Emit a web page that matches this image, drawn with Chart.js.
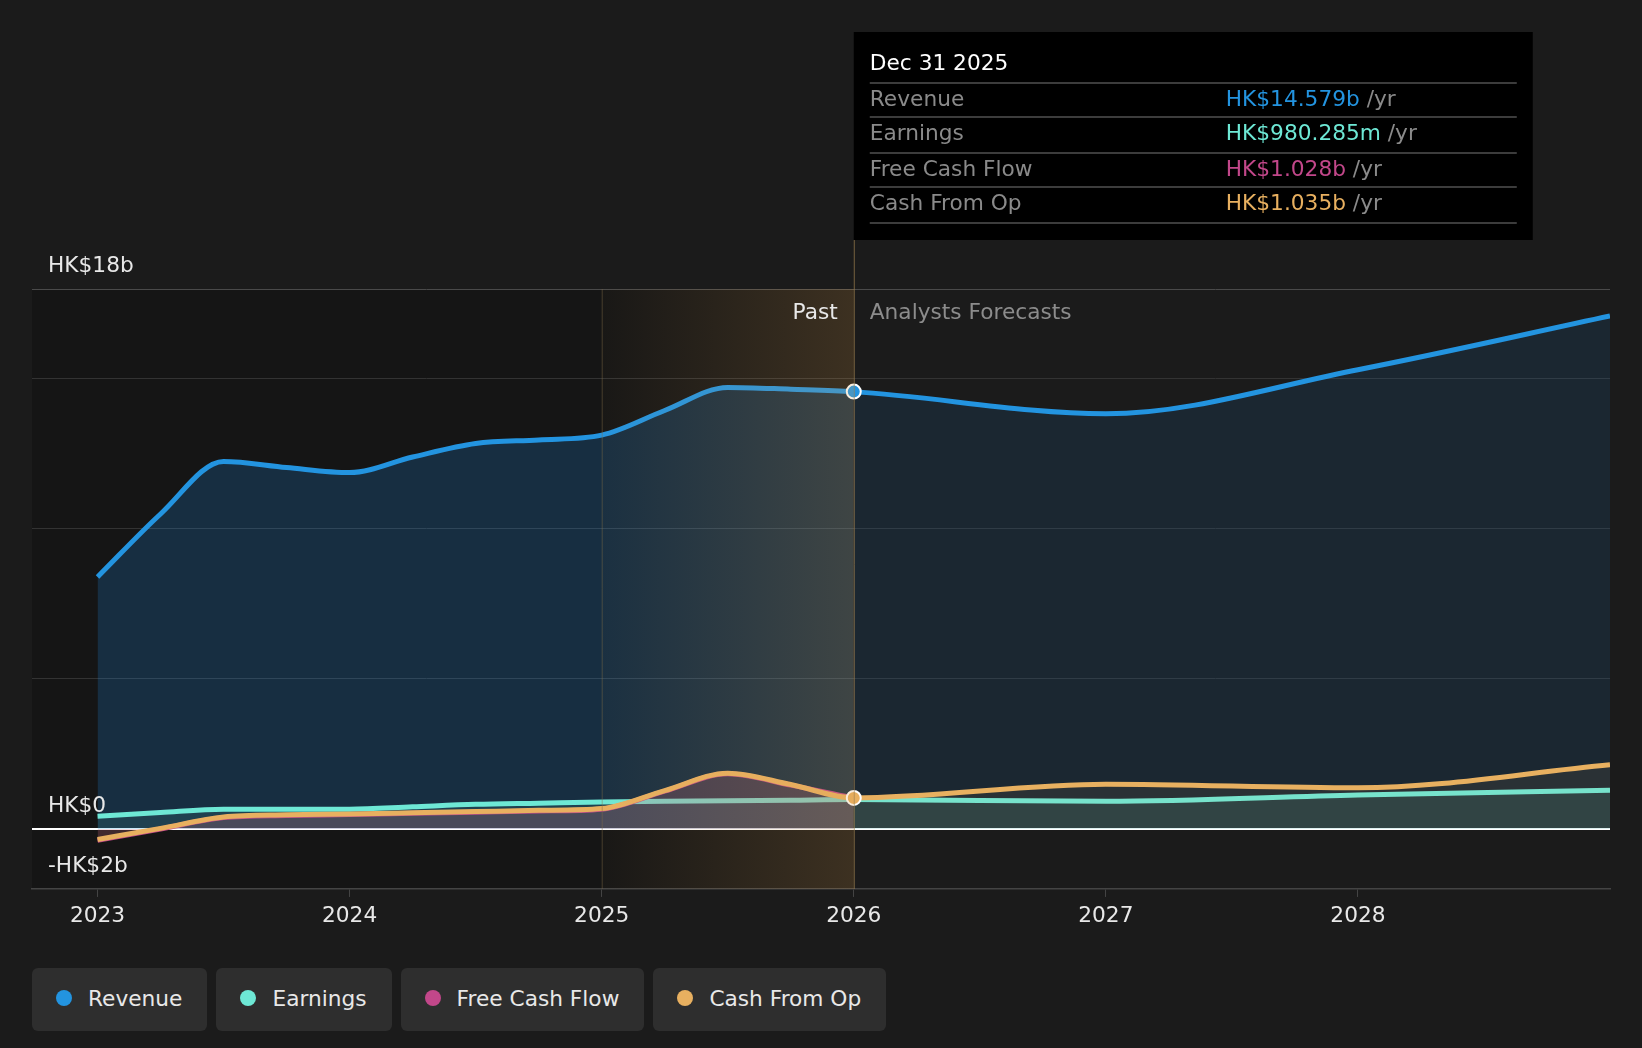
<!DOCTYPE html>
<html lang="en">
<head>
<meta charset="UTF-8">
<title>Revenue, Earnings and Cash Flow</title>
<script src="https://cdn.jsdelivr.net/npm/chart.js@4.4.0/dist/chart.umd.min.js"></script>
<style>
  body { margin: 0; background: #1b1b1b; font-family: "DejaVu Sans", sans-serif; }
  #wrap { position: relative; width: 1642px; height: 1048px; overflow: hidden; }
  #chart { position: absolute; left: 0; top: 0; }
  .legend { position: absolute; left: 32px; top: 968px; display: flex; gap: 9px; }
  .item { height: 63px; background: #2e2e2e; border-radius: 6px; display: flex; align-items: center;
          padding: 0 25px 3px 24px; color: #e8e8e8; font-size: 21.7px; box-sizing: border-box; }
  .dot { width: 16px; height: 16px; border-radius: 50%; margin-right: 16px; }
</style>
</head>
<body>
<div id="wrap">
  <canvas id="chart" width="1642" height="940"></canvas>
  <div class="legend" id="legend"></div>
</div>
<script>
// years as decimals, values in HK$ billions
const dates       = [2023, 2023.25, 2023.5, 2023.75, 2024, 2024.25, 2024.5, 2024.75, 2025, 2025.25, 2025.5, 2025.75, 2026, 2027, 2028, 2029];
const revenue     = [8.4, 10.5, 12.25, 12.05, 11.88, 12.4, 12.85, 12.97, 13.13, 13.95, 14.72, 14.66, 14.579, 13.84, 15.31, 17.1];
const earnings    = [0.42, 0.55, 0.66, 0.66, 0.66, 0.74, 0.82, 0.86, 0.9, 0.92, 0.94, 0.96, 0.98, 0.92, 1.13, 1.29];
const cashFromOp  = [-0.35, 0.02, 0.4, 0.47, 0.5, 0.54, 0.58, 0.62, 0.68, 1.28, 1.86, 1.48, 1.035, 1.49, 1.37, 2.14];
const fcfDates    = [2023, 2023.25, 2023.5, 2023.75, 2024, 2024.25, 2024.5, 2024.75, 2025, 2025.25, 2025.5, 2025.75, 2026];
const freeCashFlow = [-0.38, 0.0, 0.38, 0.45, 0.48, 0.52, 0.56, 0.6, 0.66, 1.26, 1.84, 1.46, 1.028];

const yearTicks = [2023, 2024, 2025, 2026, 2027, 2028];
const gridValues = [-2, 0, 5, 10, 15, 18];
const yLabelValues = [18, 0, -2];
const yLabelTexts = ['HK$18b', 'HK$0', '-HK$2b'];

const pastStart = 2025;
const todayX = 2026;
const tooltipDate = 'Dec 31 2025';
const seriesNames  = ['Revenue', 'Earnings', 'Free Cash Flow', 'Cash From Op'];
const seriesColors = ['#2394e0', '#6ee8d5', '#c2478a', '#e8b060'];
const tooltipValues = ['HK$14.579b', 'HK$980.285m', 'HK$1.028b', 'HK$1.035b'];

const FONT = '"DejaVu Sans", sans-serif';
const FS = 21.7;

function pts(xs, ys) { return xs.map((x, i) => ({ x: x, y: ys[i] })); }

function markerRadius(c) { return c.raw && c.raw.x === todayX ? 7 : 0; }

const backdrop = {
  id: 'backdrop',
  beforeDraw(chart) {
    const { ctx, chartArea: a, scales: { x } } = chart;
    ctx.save();
    ctx.fillStyle = '#151515';
    ctx.fillRect(a.left, a.top, x.getPixelForValue(todayX) - a.left, a.bottom - a.top);
    ctx.restore();
  },
  afterDatasetsDraw(chart) {
    const { ctx, chartArea: a, scales: { x, y } } = chart;
    const x0 = x.getPixelForValue(pastStart), x1 = x.getPixelForValue(todayX);
    ctx.save();
    const g = ctx.createLinearGradient(x0, 0, x1, 0);
    g.addColorStop(0, 'rgba(220,160,80,0.02)');
    g.addColorStop(1, 'rgba(220,160,80,0.2)');
    ctx.fillStyle = g;
    ctx.fillRect(x0, a.top, x1 - x0, a.bottom - a.top);

    ctx.lineWidth = 1;
    ctx.strokeStyle = 'rgba(130,110,70,0.45)';
    ctx.beginPath(); ctx.moveTo(x0 + 0.5, a.top); ctx.lineTo(x0 + 0.5, a.bottom); ctx.stroke();
    ctx.strokeStyle = 'rgba(160,130,80,0.7)';
    ctx.beginPath(); ctx.moveTo(x1 + 0.5, 240); ctx.lineTo(x1 + 0.5, a.bottom); ctx.stroke();

    // labels
    ctx.font = FS + 'px ' + FONT;
    ctx.textBaseline = 'middle';
    ctx.fillStyle = '#e8e8e8';
    ctx.textAlign = 'right';
    ctx.fillText('Past', x1 - 16, a.top + 24);
    ctx.fillStyle = '#8c8c8c';
    ctx.textAlign = 'left';
    ctx.fillText('Analysts Forecasts', x1 + 16, a.top + 24);

    ctx.fillStyle = '#e8e8e8';
    yLabelValues.forEach((v, i) => {
      ctx.fillText(yLabelTexts[i], a.left + 16, y.getPixelForValue(v) - 23);
    });

    // tooltip box
    const bx = x1, bw = 679, by = 32, bh = 208;
    ctx.fillStyle = '#000';
    ctx.fillRect(bx, by, bw, bh);
    const tx = bx + 16, vx = bx + 372, lineEnd = bx + 663;
    ctx.fillStyle = '#fff';
    ctx.fillText(tooltipDate, tx, 64);
    const sepY = [83, 117, 153, 187, 223];
    ctx.strokeStyle = '#3c3c3c';
    ctx.lineWidth = 2;
    sepY.forEach(sy => { ctx.beginPath(); ctx.moveTo(tx, sy); ctx.lineTo(lineEnd, sy); ctx.stroke(); });
    const rowY = [100, 134, 170, 204];
    seriesNames.forEach((n, i) => {
      ctx.fillStyle = '#8a8a8a';
      ctx.fillText(n, tx, rowY[i]);
      ctx.fillStyle = seriesColors[i];
      ctx.fillText(tooltipValues[i], vx, rowY[i]);
      const w = ctx.measureText(tooltipValues[i]).width;
      ctx.fillStyle = '#8a8a8a';
      ctx.fillText(' /yr', vx + w, rowY[i]);
    });
    ctx.restore();
  }
};

Chart.defaults.font.family = FONT;

new Chart(document.getElementById('chart'), {
  type: 'line',
  data: {
    datasets: [
      {
        label: 'Revenue', data: pts(dates, revenue), order: 4,
        borderColor: seriesColors[0], borderWidth: 5, fill: 'origin',
        backgroundColor: 'rgba(33,150,243,0.1)',
        segment: { backgroundColor: c => c.p0.parsed.x < todayX ? 'rgba(33,150,243,0.2)' : 'rgba(33,150,243,0.1)' },
        pointRadius: markerRadius, pointBackgroundColor: seriesColors[0], pointBorderColor: '#fff', pointBorderWidth: 2
      },
      {
        label: 'Earnings', data: pts(dates, earnings), order: 3,
        borderColor: seriesColors[1], borderWidth: 5, fill: 'origin',
        backgroundColor: 'rgba(110,232,213,0.1)', pointRadius: 0
      },
      {
        label: 'Free Cash Flow', data: pts(fcfDates, freeCashFlow), order: 2,
        borderColor: seriesColors[2], borderWidth: 5, fill: 'origin',
        backgroundColor: 'rgba(194,71,138,0.18)', pointRadius: 0
      },
      {
        label: 'Cash From Op', data: pts(dates, cashFromOp), order: 1,
        borderColor: seriesColors[3], borderWidth: 5, fill: 'origin',
        backgroundColor: 'rgba(232,176,96,0.08)',
        pointRadius: markerRadius, pointBackgroundColor: seriesColors[3], pointBorderColor: '#fff', pointBorderWidth: 2
      }
    ]
  },
  options: {
    responsive: false,
    devicePixelRatio: 1,
    animation: false,
    cubicInterpolationMode: 'monotone',
    layout: { padding: { left: 32, right: 32, top: 289, bottom: 5 } },
    plugins: { legend: { display: false }, tooltip: { enabled: false } },
    scales: {
      x: {
        type: 'linear', min: 2022.74, max: 2029,
        afterBuildTicks: axis => { axis.ticks = yearTicks.map(v => ({ value: v })); },
        ticks: { color: '#e8e8e8', font: { size: FS }, padding: 6, maxRotation: 0, callback: v => String(v) },
        grid: { drawOnChartArea: false, color: '#444', tickLength: 8 },
        border: { color: '#444', width: 1.5 }
      },
      y: {
        min: -2, max: 18,
        afterBuildTicks: axis => { axis.ticks = gridValues.map(v => ({ value: v })); },
        ticks: { display: false },
        grid: {
          drawTicks: false,
          color: c => c.tick.value === 0 ? '#ffffff' : c.tick.value === 18 ? '#4a4a4a' : c.tick.value === -2 ? 'rgba(0,0,0,0)' : '#333333',
          lineWidth: c => c.tick.value === 0 ? 2 : 1
        },
        border: { display: false }
      }
    }
  },
  plugins: [backdrop]
});

const legend = document.getElementById('legend');
seriesNames.forEach((n, i) => {
  const item = document.createElement('div');
  item.className = 'item';
  item.innerHTML = '<span class="dot" style="background:' + seriesColors[i] + '"></span>' + n;
  legend.appendChild(item);
});
</script>
</body>
</html>
